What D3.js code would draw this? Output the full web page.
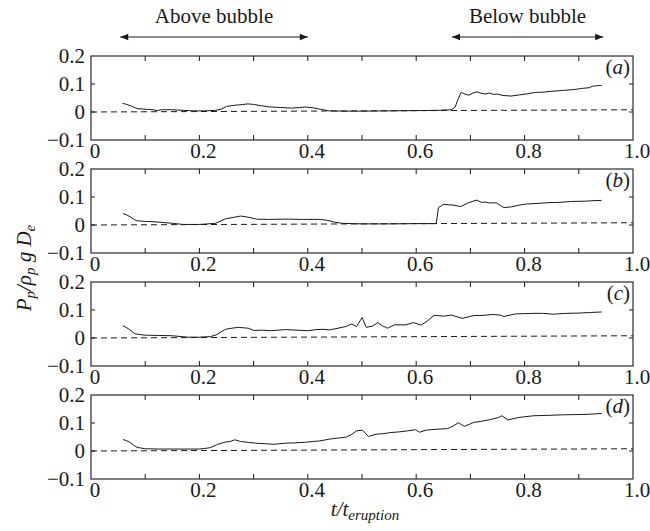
<!DOCTYPE html>
<html>
<head>
<meta charset="utf-8">
<script src="https://cdn.jsdelivr.net/npm/d3@7"></script>
<style>
  body { margin: 0; background: #fff; }
  svg { display: block; }
</style>
</head>
<body>
<svg id="chart" width="650" height="531"></svg>
<script>
// Dimensionless particle pressure vs. normalised time, four runs (a)–(d)
const panelLetters = ["a", "b", "c", "d"];
const xTickLabels = [0, 0.2, 0.4, 0.6, 0.8, 1.0];
const xMinorTicks = [0.1, 0.2, 0.3, 0.4, 0.5, 0.6, 0.7, 0.8, 0.9];
const yTickLabels = [-0.1, 0, 0.1, 0.2];

// dashed reference level (P = 0)
const zeroLine = [[0, 0], [1, 0.008]];

// time windows marked at the top of the figure
const aboveBubble = [0.054, 0.40];
const belowBubble = [0.666, 0.945];

const seriesA = [
  [0.058, 0.031], [0.066, 0.027], [0.075, 0.021], [0.085, 0.012], [0.1, 0.010],
  [0.115, 0.008], [0.122, 0.005], [0.13, 0.008], [0.15, 0.008], [0.17, 0.006],
  [0.19, 0.004], [0.21, 0.004], [0.23, 0.006], [0.24, 0.010], [0.25, 0.020],
  [0.265, 0.024], [0.28, 0.027], [0.29, 0.029], [0.30, 0.027], [0.315, 0.022],
  [0.33, 0.018], [0.35, 0.016], [0.37, 0.014], [0.385, 0.016], [0.395, 0.018],
  [0.41, 0.015], [0.425, 0.009], [0.44, 0.004], [0.47, 0.003], [0.5, 0.003],
  [0.55, 0.004], [0.6, 0.005], [0.64, 0.006], [0.665, 0.008], [0.672, 0.018],
  [0.677, 0.045], [0.683, 0.070], [0.69, 0.064], [0.697, 0.060], [0.705, 0.068],
  [0.712, 0.072], [0.72, 0.067], [0.728, 0.064], [0.735, 0.068], [0.742, 0.063],
  [0.75, 0.064], [0.76, 0.059], [0.775, 0.057], [0.79, 0.061], [0.805, 0.065],
  [0.82, 0.070], [0.835, 0.071], [0.85, 0.074], [0.87, 0.077], [0.89, 0.080],
  [0.905, 0.084], [0.92, 0.087], [0.925, 0.092], [0.935, 0.094], [0.942, 0.095]
];

const seriesB = [
  [0.059, 0.041], [0.068, 0.034], [0.074, 0.027], [0.08, 0.019], [0.085, 0.015],
  [0.1, 0.013], [0.12, 0.011], [0.15, 0.006], [0.17, 0.002], [0.2, 0.002],
  [0.215, 0.004], [0.23, 0.006], [0.24, 0.015], [0.248, 0.022], [0.262, 0.027],
  [0.276, 0.032], [0.29, 0.028], [0.305, 0.021], [0.33, 0.020], [0.36, 0.021],
  [0.39, 0.020], [0.42, 0.020], [0.435, 0.017], [0.45, 0.010], [0.463, 0.006],
  [0.5, 0.004], [0.55, 0.004], [0.6, 0.005], [0.637, 0.005], [0.641, 0.062],
  [0.651, 0.074], [0.66, 0.072], [0.668, 0.071], [0.682, 0.066], [0.696, 0.079],
  [0.705, 0.085], [0.712, 0.089], [0.72, 0.081], [0.727, 0.082], [0.734, 0.079],
  [0.748, 0.079], [0.755, 0.070], [0.762, 0.062], [0.776, 0.065], [0.79, 0.071],
  [0.803, 0.075], [0.825, 0.077], [0.845, 0.080], [0.865, 0.081], [0.887, 0.084],
  [0.91, 0.085], [0.93, 0.087], [0.942, 0.088]
];

const seriesC = [
  [0.059, 0.044], [0.065, 0.038], [0.071, 0.030], [0.081, 0.015], [0.1, 0.010],
  [0.125, 0.009], [0.15, 0.008], [0.178, 0.003], [0.2, 0.003], [0.22, 0.005],
  [0.231, 0.011], [0.24, 0.022], [0.248, 0.031], [0.26, 0.035], [0.272, 0.038],
  [0.29, 0.035], [0.3, 0.027], [0.315, 0.028], [0.331, 0.026], [0.345, 0.028],
  [0.359, 0.030], [0.38, 0.028], [0.4, 0.026], [0.415, 0.030], [0.428, 0.031],
  [0.44, 0.029], [0.456, 0.035], [0.47, 0.041], [0.481, 0.050], [0.49, 0.041],
  [0.5, 0.073], [0.508, 0.038], [0.52, 0.043], [0.529, 0.055], [0.538, 0.043],
  [0.547, 0.035], [0.56, 0.047], [0.581, 0.047], [0.595, 0.055], [0.609, 0.046],
  [0.62, 0.060], [0.633, 0.081], [0.651, 0.078], [0.665, 0.082], [0.685, 0.070],
  [0.706, 0.080], [0.725, 0.081], [0.741, 0.084], [0.755, 0.082], [0.762, 0.077],
  [0.783, 0.086], [0.8, 0.087], [0.817, 0.088], [0.835, 0.088], [0.852, 0.085],
  [0.875, 0.088], [0.9, 0.089], [0.92, 0.091], [0.942, 0.093]
];

const seriesD = [
  [0.059, 0.041], [0.065, 0.037], [0.071, 0.032], [0.078, 0.022], [0.085, 0.013],
  [0.1, 0.008], [0.125, 0.007], [0.15, 0.007], [0.175, 0.007], [0.2, 0.007],
  [0.21, 0.009], [0.22, 0.012], [0.234, 0.024], [0.248, 0.032], [0.257, 0.034],
  [0.265, 0.040], [0.276, 0.034], [0.29, 0.031], [0.303, 0.028], [0.32, 0.026],
  [0.338, 0.024], [0.359, 0.028], [0.375, 0.029], [0.394, 0.031], [0.41, 0.034],
  [0.422, 0.036], [0.442, 0.043], [0.455, 0.046], [0.47, 0.049], [0.48, 0.058],
  [0.49, 0.072], [0.501, 0.074], [0.512, 0.052], [0.526, 0.060], [0.54, 0.062],
  [0.553, 0.066], [0.567, 0.068], [0.581, 0.071], [0.599, 0.076], [0.606, 0.067],
  [0.619, 0.075], [0.64, 0.078], [0.658, 0.080], [0.668, 0.089], [0.678, 0.101],
  [0.689, 0.088], [0.706, 0.102], [0.72, 0.106], [0.734, 0.111], [0.751, 0.119],
  [0.758, 0.126], [0.769, 0.111], [0.79, 0.120], [0.817, 0.126], [0.84, 0.127],
  [0.866, 0.129], [0.89, 0.130], [0.915, 0.131], [0.942, 0.134]
];

const allSeries = [seriesA, seriesB, seriesC, seriesD];

const fontFace = "'Liberation Serif'";
const svg = d3.select("#chart");
const fontSize = 21;
const subSize = 15;
const left = 91, right = 633;
const panelTops = [56, 169, 282, 395];
const panelH = 84;
const ink = "#1a1a1a";

const x = d3.scaleLinear().domain([0, 1]).range([left, right]);

// arrowhead marker for the time-window arrows
const defs = svg.append("defs");
defs.append("marker")
  .attr("id", "head")
  .attr("viewBox", "0 0 10 10")
  .attr("refX", 10).attr("refY", 5)
  .attr("markerWidth", 10).attr("markerHeight", 8)
  .attr("markerUnits", "userSpaceOnUse")
  .attr("orient", "auto-start-reverse")
  .append("path").attr("d", "M0,1 L10,5 L0,9 Z").attr("fill", ink);

function addText(parent) {
  return parent.append("text")
    .style("font-family", fontFace)
    .attr("fill", ink)
    .attr("font-size", fontSize);
}

const arrowY = 37;
[[aboveBubble, "Above bubble"], [belowBubble, "Below bubble"]].forEach(([span, label]) => {
  svg.append("line")
    .attr("x1", x(span[0])).attr("x2", x(span[1]))
    .attr("y1", arrowY).attr("y2", arrowY)
    .attr("stroke", ink).attr("stroke-width", 1)
    .attr("marker-start", "url(#head)").attr("marker-end", "url(#head)");
  addText(svg)
    .attr("x", (x(span[0]) + x(span[1])) / 2)
    .attr("y", 23)
    .attr("text-anchor", "middle")
    .text(label);
});

const line = d3.line().x(d => x(d[0]));

allSeries.forEach((series, i) => {
  const top = panelTops[i];
  const y = d3.scaleLinear().domain([-0.1, 0.2]).range([top + panelH, top]);
  const g = svg.append("g");
  line.y(d => y(d[1]));

  // inward ticks on all four sides
  const tickLen = 5;
  xMinorTicks.forEach(t => {
    g.append("line").attr("x1", x(t)).attr("x2", x(t))
      .attr("y1", top + panelH).attr("y2", top + panelH - tickLen)
      .attr("stroke", ink).attr("stroke-width", 1);
    g.append("line").attr("x1", x(t)).attr("x2", x(t))
      .attr("y1", top).attr("y2", top + tickLen)
      .attr("stroke", ink).attr("stroke-width", 1);
  });
  [0, 0.1].forEach(v => {
    g.append("line").attr("x1", left).attr("x2", left + 4)
      .attr("y1", y(v)).attr("y2", y(v)).attr("stroke", ink).attr("stroke-width", 1);
    g.append("line").attr("x1", right).attr("x2", right - 4)
      .attr("y1", y(v)).attr("y2", y(v)).attr("stroke", ink).attr("stroke-width", 1);
  });

  // dashed zero level
  g.append("path")
    .attr("d", line(zeroLine))
    .attr("fill", "none").attr("stroke", ink)
    .attr("stroke-width", 1).attr("stroke-dasharray", "6,4");

  // data curve
  g.append("path")
    .attr("d", line(series))
    .attr("fill", "none").attr("stroke", ink)
    .attr("stroke-width", 1).attr("stroke-linejoin", "round");

  // frame
  g.append("rect")
    .attr("x", left).attr("y", top)
    .attr("width", right - left).attr("height", panelH)
    .attr("fill", "none").attr("stroke", "#2a2a2a").attr("stroke-width", 1.2);

  // y tick labels
  yTickLabels.forEach(v => {
    addText(g)
      .attr("x", left - 6).attr("y", y(v))
      .attr("dy", "0.35em")
      .attr("text-anchor", "end")
      .text(v === 0 ? "0" : (v < 0 ? "\u2212" : "") + d3.format(".1f")(Math.abs(v)));
  });

  // x tick labels
  xTickLabels.forEach(t => {
    addText(g)
      .attr("x", x(t) + 4).attr("y", top + panelH + 18)
      .attr("text-anchor", "middle")
      .text(t === 0 ? "0" : d3.format(".1f")(t));
  });

  // panel letter
  const lab = addText(g)
    .attr("x", right - 3).attr("y", top + 18)
    .attr("text-anchor", "end");
  lab.append("tspan").text("(");
  lab.append("tspan").attr("font-style", "italic").text(panelLetters[i]);
  lab.append("tspan").text(")");
});

// x-axis title
const xt = addText(svg)
  .attr("x", 365).attr("y", 516)
  .attr("text-anchor", "middle")
  .attr("font-style", "italic");
xt.append("tspan").text("t/t");
xt.append("tspan").attr("font-size", subSize).attr("dy", 4).text("eruption");

// y-axis title
const yt = addText(svg)
  .attr("transform", "translate(31,268) rotate(-90)")
  .attr("text-anchor", "middle")
  .attr("font-style", "italic");
yt.append("tspan").text("P");
yt.append("tspan").attr("font-size", subSize).attr("dy", 4).text("p");
yt.append("tspan").attr("dy", -4).text("/\u03C1");
yt.append("tspan").attr("font-size", subSize).attr("dy", 4).text("p");
yt.append("tspan").attr("dy", -4).text(" g D");
yt.append("tspan").attr("font-size", subSize).attr("dy", 4).text("e");
</script>
</body>
</html>
